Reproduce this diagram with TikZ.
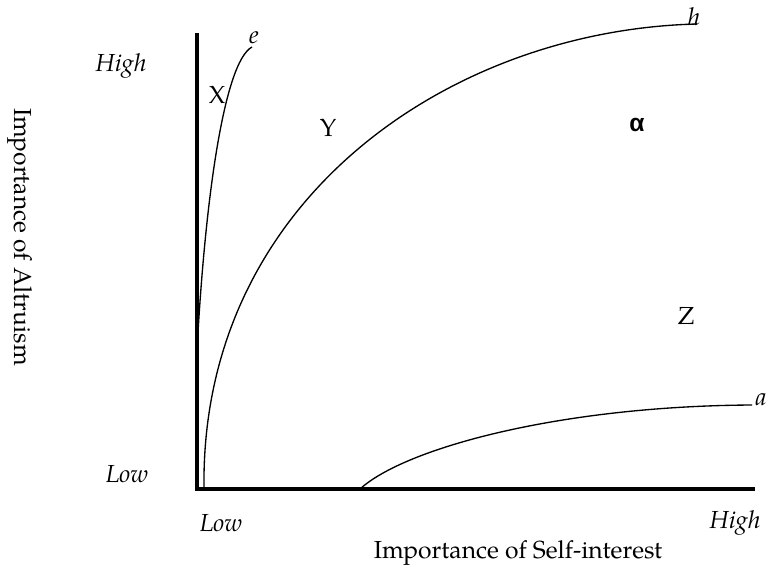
\documentclass[tikz,border=0pt]{standalone}
\usepackage{fontspec}
\setmainfont{TeX Gyre Pagella}
\newfontfamily\greekfont{Liberation Sans}
\usepackage{tikz}

\begin{document}
\begin{tikzpicture}[x=0.75pt,y=0.75pt,yscale=-1,xscale=1,
  axisline/.style={line width=2.3pt},
  curveline/.style={line width=1pt},
  lbl/.style={inner sep=0.75pt,font=\fontsize{18.5}{22}\selectfont}]
\useasboundingbox (0,0) rectangle (768,569);

%Axes
\coordinate (top) at (197,33);
\coordinate (origin) at (197,489);
\coordinate (right) at (755,489);
\draw [axisline] (top) -- (origin) -- (right) ;

%Curve e
\draw [curveline] (197,350) .. controls (205,200) and (224,62) .. (252,47) ;
%Curve h
\draw [curveline] (204,489) .. controls (200,200) and (450,30) .. (697,24) ;
%Curve a
\draw [curveline] (360,489) .. controls (405,448) and (560,406) .. (752,405) ;

% Text Node
\draw (121,66) node (highleft) [lbl] {\itshape High};
% Text Node
\draw (127,474) node (lowleft) [lbl] {\itshape Low};
% Text Node
\draw (221,523) node (lowbottom) [lbl] {\itshape Low};
% Text Node
\draw (735,523) node (highbottom) [lbl] {\itshape High};
% Text Node
\draw (518,553) node (xtitle) [lbl] {Importance of Self-interest};
% Text Node
\draw (20,237) node (ytitle) [lbl,rotate=-90] {Importance of Altruism};
% Text Node
\draw (217,95) node (regionx) [lbl] {X};
% Text Node
\draw (328,128) node (regiony) [lbl] {Y};
% Text Node
\draw (637,125) node (regionalpha) [lbl] {\greekfont\bfseries α};
% Text Node
\draw (686,316) node (regionz) [lbl] {Z};
% Text Node
\draw (254,38) node (curvee) [lbl] {\itshape e};
% Text Node
\draw (694,17) node (curveh) [lbl] {\itshape h};
% Text Node
\draw (761,400) node (curvea) [lbl] {\itshape a};

\end{tikzpicture}
\end{document}
